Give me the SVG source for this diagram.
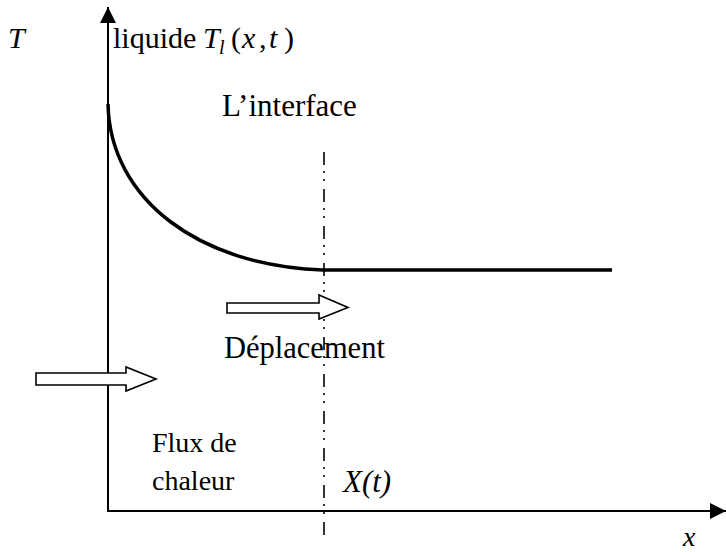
<svg xmlns="http://www.w3.org/2000/svg" width="726" height="552" viewBox="0 0 726 552">
<style>
.t{font-family:"Liberation Serif","Times New Roman",serif;fill:#000}
.i{font-style:italic}
.ax{stroke:#000;stroke-width:2;fill:none}
.blk{stroke:#000;stroke-width:1.6;fill:#fff}
</style>
<defs>
<marker id="ah2" viewBox="0 0 16 16" refX="16" refY="8" markerWidth="16" markerHeight="16" markerUnits="userSpaceOnUse" orient="auto">
<path d="M0,0 L16,8 L0,16 z" fill="#000"/>
</marker>
</defs>
<g id="connectors">
<line class="ax" x1="108" y1="512" x2="108" y2="7" marker-end="url(#ah2)"/>
<line class="ax" x1="107" y1="511" x2="726" y2="511" marker-end="url(#ah2)"/>
<line x1="324" y1="152" x2="324" y2="536" stroke="#000" stroke-width="1.6" stroke-dasharray="13 6 2 6 2 8"/>
<path d="M108,104 C110,200 200,266 323,270 L612,270" stroke="#000" stroke-width="3.5" fill="none"/>
</g>
<g id="arrow-deplacement">
<path class="blk" d="M227,303 L319,303 L319,295 L348,307.5 L319,319 L319,313 L227,313 z"/>
</g>
<g id="arrow-flux">
<path class="blk" d="M36,373 L126,373 L126,367 L156,379 L126,391 L126,385 L36,385 z"/>
</g>
<g id="labels">
<text class="t i" x="8" y="48" font-size="30">T</text>
<text class="t" y="48" font-size="30"><tspan x="113">liquide</tspan><tspan class="i" x="203">T</tspan><tspan class="i" x="219" font-size="20" dy="6">l</tspan><tspan x="231" dy="-6">(</tspan><tspan class="i" x="242">x</tspan><tspan x="259">,</tspan><tspan class="i" x="269">t</tspan><tspan x="284">)</tspan></text>
<text class="t" x="222" y="116" font-size="31">L’interface</text>
<text class="t" x="224" y="358" font-size="30.5">Déplacement</text>
<text class="t" x="152" y="452" font-size="28">Flux de</text>
<text class="t" x="152" y="490" font-size="28">chaleur</text>
<text class="t i" x="343" y="492" font-size="31">X(t)</text>
<text class="t i" x="683" y="546" font-size="28">x</text>
</g>
</svg>
